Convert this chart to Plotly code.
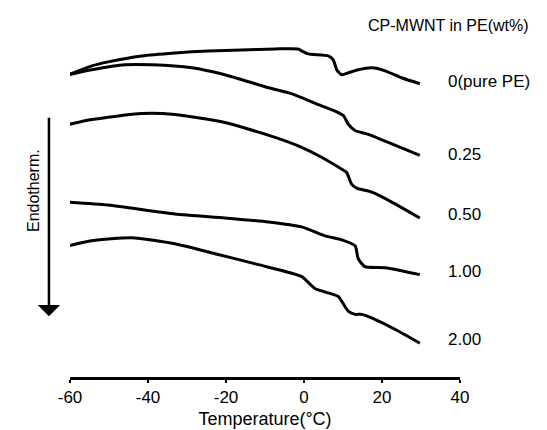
import plotly.graph_objects as go

# Temperature (°C) and heat flow (arbitrary units)
t_pe = [-60.4, -54.4, -50.2, -41.6, -33.1, -24.5, -16.0, -7.4, -1.5, -0.6, 1.1, 6.2, 7.5, 8.4, 9.7, 11.4, 13.9, 17.4, 20.8, 25.0, 29.7]
h_pe = [30.4, 31.3, 31.7, 32.3, 32.6, 32.8, 32.9, 33.0, 33.0, 32.8, 32.5, 32.3, 31.9, 30.9, 30.4, 30.6, 30.9, 31.1, 30.8, 30.1, 29.5]

t_025 = [-60.4, -54.4, -45.9, -39.0, -28.8, -20.3, -9.1, -3.2, 3.7, 8.8, 10.1, 11.4, 13.1, 16.5, 21.6, 29.7]
h_025 = [30.4, 30.9, 31.4, 31.4, 31.1, 30.4, 29.1, 28.5, 27.4, 26.6, 26.3, 25.4, 24.8, 24.4, 23.6, 22.3]

t_050 = [-60.4, -54.4, -41.6, -33.1, -20.3, -7.4, -0.6, 4.5, 9.7, 10.9, 12.2, 13.5, 17.4, 21.6, 29.7]
h_050 = [25.4, 25.9, 26.5, 26.4, 25.6, 24.1, 23.1, 22.1, 20.9, 20.6, 19.4, 19.0, 18.6, 17.8, 16.0]

t_100 = [-60.4, -50.2, -33.1, -20.3, -9.1, -0.6, 5.4, 9.7, 13.1, 13.9, 15.6, 20.8, 29.7]
h_100 = [17.6, 17.3, 16.4, 16.0, 15.6, 15.1, 14.2, 13.8, 13.2, 11.9, 11.1, 11.0, 10.3]

t_200 = [-60.4, -54.4, -44.2, -33.1, -22.8, -11.7, -0.6, 2.8, 8.8, 9.7, 11.4, 13.1, 14.8, 18.2, 23.3, 29.7]
h_200 = [13.2, 13.7, 14.0, 13.4, 12.4, 11.3, 10.1, 8.9, 8.1, 7.6, 6.6, 6.3, 6.3, 5.8, 4.8, 3.4]

series_labels = ["0(pure PE)", "0.25", "0.50", "1.00", "2.00"]
label_y = [29.7, 22.4, 16.3, 10.6, 3.8]
x_ticks = [-60, -40, -20, 0, 20, 40]
x_tick_text = ["-60", "-40", "-20", "0", "20", "40"]

FONT = "Liberation Sans, Arial, sans-serif"

fig = go.Figure()
for t, h, name in zip([t_pe, t_025, t_050, t_100, t_200],
                      [h_pe, h_025, h_050, h_100, h_200], series_labels):
    fig.add_trace(go.Scatter(x=t, y=h, mode="lines", name=name,
                             line=dict(color="black", width=3, shape="spline", smoothing=0.6),
                             showlegend=False, hoverinfo="skip"))

for name, y in zip(series_labels, label_y):
    fig.add_annotation(x=36.5, y=y, text=name, showarrow=False, xanchor="left",
                       yanchor="middle", font=dict(family=FONT, size=17, color="black"))

fig.add_annotation(xref="paper", yref="paper", x=0.76, y=1.04, text="CP-MWNT in PE(wt%)",
                   showarrow=False, xanchor="left", yanchor="middle",
                   font=dict(family=FONT, size=16, color="black"))

# Endotherm arrow
fig.add_annotation(xref="paper", yref="paper", x=-0.054, y=0.18, axref="pixel", ayref="pixel",
                   ax=0, ay=-200, text="", showarrow=True,
                   arrowhead=1, arrowsize=1.5, arrowwidth=2.5, arrowcolor="black")
fig.add_annotation(xref="paper", yref="paper", x=-0.095, y=0.553, text="Endotherm.",
                   showarrow=False, textangle=-90, xanchor="center", yanchor="middle",
                   font=dict(family=FONT, size=16, color="black"))

fig.update_layout(
    width=547, height=430,
    margin=dict(l=62, r=95, t=31, b=59),
    plot_bgcolor="white", paper_bgcolor="white",
    font=dict(family=FONT, size=17, color="black"),
    xaxis=dict(range=[-60, 40], tickvals=x_ticks, ticktext=x_tick_text,
               showgrid=False, zeroline=False,
               showline=True, linecolor="black", linewidth=3,
               ticks="outside", ticklen=3, tickwidth=2, tickcolor="black",
               tickfont=dict(family=FONT, size=17, color="black"),
               title=dict(text="Temperature(°C)", font=dict(family=FONT, size=18, color="black"), standoff=6)),
    yaxis=dict(range=[0, 34], visible=False),
)

fig.write_html("out.html")
